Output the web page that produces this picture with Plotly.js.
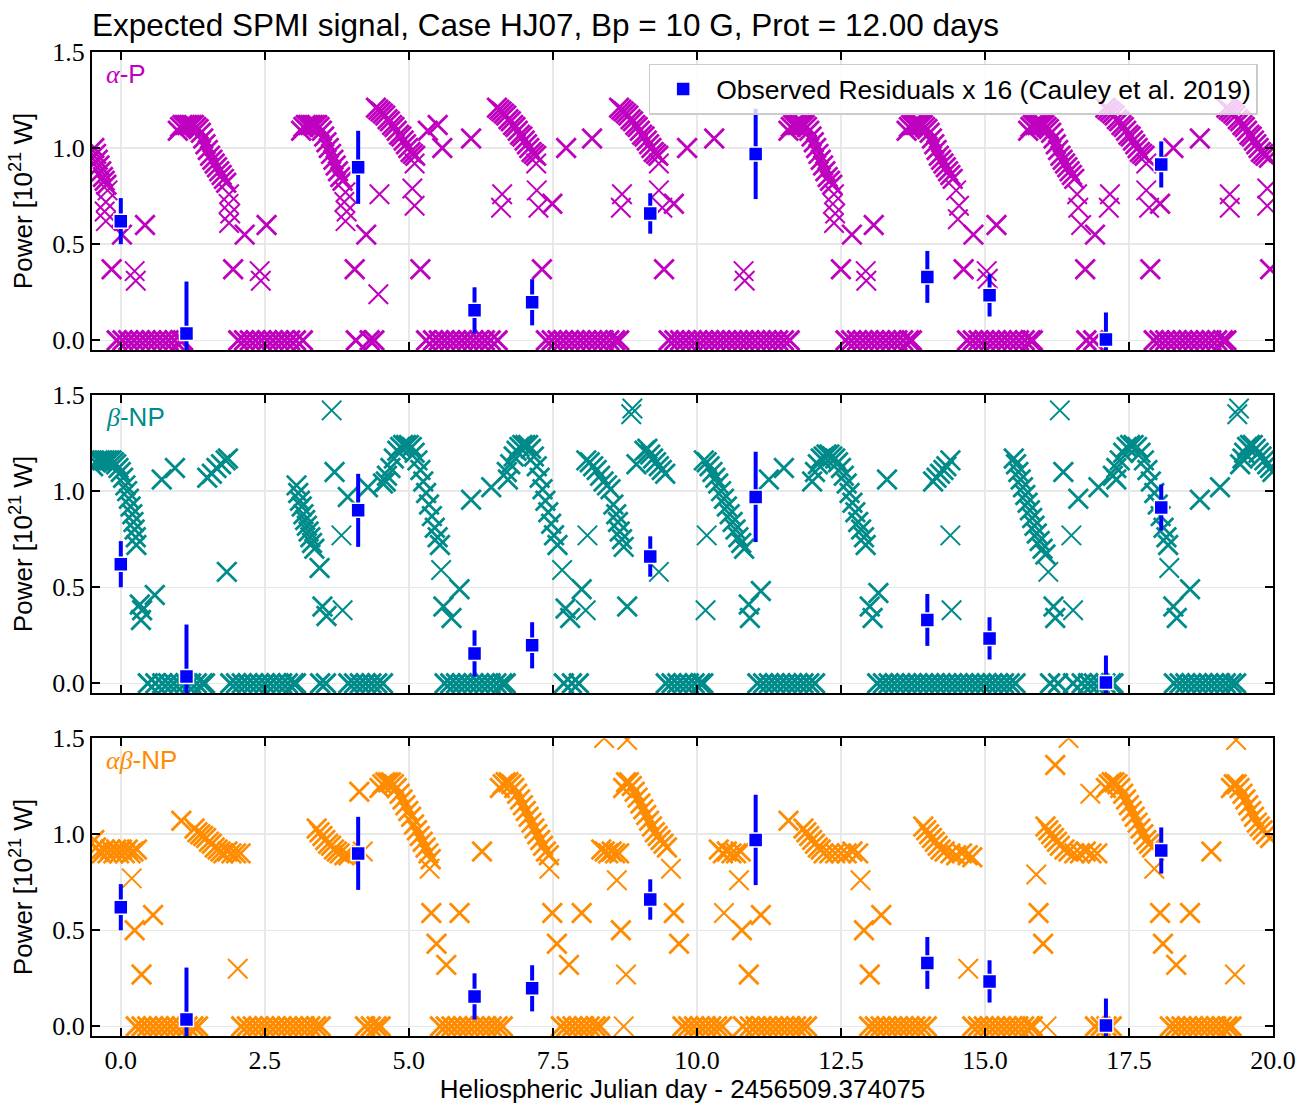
<!DOCTYPE html>
<html><head><meta charset="utf-8">
<script src="https://cdn.plot.ly/plotly-3.0.1.min.js"></script>
<style>html,body{margin:0;padding:0;background:#fff}#chart{width:1306px;height:1104px}</style>
</head><body><div id="chart"></div>
<script>
// ---------------- α-P (panel 1) ----------------
const aP_x = [
 -0.46,-0.43,-0.40,-0.37,-0.34,-0.31,-0.28,-0.25,
 -0.16,0.02,0.42,
 0.99,1.03,1.07,1.11,1.15,1.19,1.23,1.27,1.31,1.35,1.39,1.43,1.47,1.51,1.55,1.59,1.63,1.67,1.71,1.75,1.79,1.83,
 2.15,2.53,1.95,
 3.13,3.17,3.21,3.25,3.29,3.33,3.37,3.41,3.45,3.49,3.53,3.57,3.61,3.65,3.69,3.73,3.77,3.81,3.85,
 4.26,4.06,
 4.43,4.47,4.51,4.55,4.59,4.63,4.67,4.71,4.75,4.79,4.83,4.87,4.91,4.95,4.99,5.03,5.07,5.11,
 5.20,5.33,5.50,5.58,6.08,
 6.53,6.57,6.61,6.65,6.69,6.73,6.77,6.81,6.85,6.89,6.93,6.97,7.01,7.05,7.09,7.13,7.17,7.21,
 7.49,7.31,7.73,8.18,
 8.65,8.69,8.73,8.77,8.81,8.85,8.89,8.93,8.97,9.01,9.05,9.09,9.13,9.17,9.21,9.25,9.29,9.33,
 9.60,9.43,9.83,10.30,
 11.59,11.63,11.67,11.71,11.75,11.79,11.83,11.87,11.91,11.95,11.99,12.03,12.07,12.11,12.15,12.19,12.23,12.27,12.31,12.35,
 12.69,13.07,12.50,
 13.64,13.68,13.72,13.76,13.80,13.84,13.88,13.92,13.96,14.00,14.04,14.08,14.12,14.16,14.20,14.24,14.28,14.32,14.36,14.40,14.44,
 14.80,15.20,14.63,
 15.75,15.79,15.83,15.87,15.91,15.95,15.99,16.03,16.07,16.11,16.15,16.19,16.23,16.27,16.31,16.35,16.39,16.43,16.47,16.51,16.55,
 16.91,16.74,
 17.09,17.13,17.17,17.21,17.25,17.29,17.33,17.37,17.41,17.45,17.49,17.53,17.57,17.61,17.65,17.69,17.73,17.77,
 18.04,18.27,18.73,17.87,
 19.19,19.23,19.27,19.31,19.35,19.39,19.43,19.47,19.51,19.55,19.59,19.63,19.67,19.71,19.75,19.79,19.83,19.87,19.93,
 19.95
];
const aP_y = [
 1.00,0.97,0.94,0.91,0.88,0.85,0.83,0.81,
 0.37,0.55,0.60,
 1.09,1.11,1.12,1.12,1.12,1.12,1.12,1.12,1.11,1.10,1.08,1.05,1.02,0.99,0.96,0.94,0.92,0.90,0.88,0.86,0.84,0.82,
 0.55,0.60,0.37,
 1.09,1.11,1.12,1.12,1.12,1.12,1.12,1.12,1.11,1.09,1.06,1.03,1.00,0.97,0.94,0.91,0.88,0.85,0.83,
 0.55,0.37,
 1.21,1.20,1.19,1.18,1.17,1.15,1.14,1.12,1.11,1.09,1.07,1.06,1.04,1.02,1.00,0.98,0.97,0.96,
 0.37,1.09,1.12,1.00,1.05,
 1.21,1.20,1.19,1.18,1.17,1.15,1.14,1.12,1.11,1.09,1.07,1.06,1.04,1.02,1.00,0.98,0.97,0.96,
 0.71,0.37,1.00,1.05,
 1.21,1.20,1.19,1.18,1.17,1.15,1.14,1.12,1.11,1.09,1.07,1.06,1.04,1.02,1.00,0.98,0.97,0.96,
 0.71,0.37,1.00,1.05,
 1.09,1.11,1.12,1.12,1.12,1.12,1.12,1.12,1.11,1.09,1.06,1.03,1.00,0.97,0.94,0.91,0.88,0.85,0.83,0.81,
 0.55,0.60,0.37,
 1.09,1.11,1.12,1.12,1.12,1.12,1.12,1.12,1.11,1.10,1.08,1.05,1.02,0.99,0.96,0.94,0.92,0.90,0.88,0.86,0.84,
 0.55,0.60,0.37,
 1.09,1.11,1.12,1.12,1.12,1.12,1.12,1.12,1.11,1.10,1.08,1.05,1.02,0.99,0.96,0.94,0.92,0.90,0.88,0.86,0.84,
 0.55,0.37,
 1.21,1.20,1.19,1.18,1.17,1.15,1.14,1.12,1.11,1.09,1.07,1.06,1.04,1.02,1.00,0.98,0.97,0.96,
 0.71,1.00,1.05,0.37,
 1.21,1.20,1.19,1.18,1.17,1.15,1.14,1.12,1.11,1.09,1.07,1.06,1.04,1.02,1.00,0.98,0.97,0.96,0.95,
 0.37
];
const aP_thin_x = [-0.23,-0.26,-0.28,-0.26,0.24,0.26, 1.88,1.87,1.90,1.88,2.41,2.43, 3.90,3.88,3.92,3.90,4.49,4.47,
 5.10,5.06,5.10, 7.21,6.62,6.60,7.22,7.25, 9.34,8.70,8.68,9.34,9.40, 10.81,10.83,
 12.38,12.36,12.40,12.38,12.93,12.94, 14.50,14.55,14.53,15.03,15.05, 16.60,16.62,16.67,17.17,17.15,
 17.80,17.80,17.85, 19.25,19.25,19.90,19.90];
const aP_thin_y = [0.78,0.72,0.67,0.62,0.36,0.31, 0.76,0.71,0.66,0.61,0.36,0.31, 0.77,0.72,0.67,0.62,0.76,0.24,
 0.92,0.79,0.70, 0.92,0.76,0.69,0.78,0.69, 0.92,0.76,0.69,0.78,0.69, 0.36,0.31,
 0.76,0.71,0.66,0.61,0.36,0.31, 0.78,0.70,0.63,0.36,0.32, 0.76,0.69,0.60,0.76,0.69,
 0.92,0.78,0.69, 0.76,0.69,0.79,0.70];
const aP_zero_x = [
 -0.07,0.03,0.13,0.23,0.33,0.43,0.53,0.63,0.73,0.83,0.93,1.03,1.08,
 2.04,2.14,2.24,2.34,2.44,2.54,2.64,2.74,2.84,2.94,3.04,3.16,
 4.08,4.32,4.40,
 5.30,5.42,5.52,5.62,5.72,5.82,5.92,6.02,6.12,6.22,6.32,6.42,6.54,
 7.38,7.48,7.58,7.68,7.78,7.88,7.98,8.08,8.18,8.28,8.38,8.48,8.58,8.65,
 9.51,9.61,9.71,9.81,9.91,10.01,10.11,10.21,10.31,10.41,10.51,10.61,10.71,10.81,10.91,11.01,11.11,11.21,11.31,11.41,11.51,11.61,
 12.58,12.68,12.78,12.88,12.98,13.08,13.18,13.28,13.38,13.48,13.58,13.68,13.73,
 14.69,14.79,14.89,14.99,15.09,15.19,15.29,15.39,15.49,15.59,15.69,15.79,15.83,
 16.76,16.88,
 17.93,18.03,18.13,18.23,18.33,18.43,18.53,18.63,18.73,18.83,18.93,19.03,19.13,19.19
];
const aP_zero_y = [
 0,0,0,0,0,0,0,0,0,0,0,0,0,
 0,0,0,0,0,0,0,0,0,0,0,0,
 0,0,0,
 0,0,0,0,0,0,0,0,0,0,0,0,0,
 0,0,0,0,0,0,0,0,0,0,0,0,0,0,
 0,0,0,0,0,0,0,0,0,0,0,0,0,0,0,0,0,0,0,0,0,0,
 0,0,0,0,0,0,0,0,0,0,0,0,0,
 0,0,0,0,0,0,0,0,0,0,0,0,0,
 0,0,
 0,0,0,0,0,0,0,0,0,0,0,0,0,0
];

// ---------------- β-NP (panel 2) ----------------
const bNP_x = [
 -0.48,-0.44,-0.40,-0.36,-0.32,-0.28,-0.24,-0.20,-0.16,-0.12,-0.08,-0.04,0.00,0.04,0.08,0.11,0.14,0.17,0.20,0.22,0.24,0.26,0.27,
 0.33,0.37,0.35,0.59,0.71,0.94,1.50,1.58,1.66,1.74,1.82,1.86,1.84,
 3.05,3.08,3.11,3.14,3.17,3.20,3.23,3.26,3.29,3.32,3.36,3.45,
 3.50,3.57,3.71,3.94,4.29,4.60,
 4.55,4.62,4.68,4.74,4.80,4.85,4.90,4.95,5.00,5.05,5.10,5.15,5.20,5.25,5.30,5.35,5.40,5.45,5.50,5.54,
 5.88,5.60,5.74,6.08,6.43,6.72,
 6.70,6.76,6.82,6.87,6.92,6.97,7.02,7.07,7.12,7.17,7.22,7.27,7.32,7.37,7.42,7.47,7.52,7.58,
 8.00,7.72,7.80,8.79,
 8.08,8.14,8.20,8.26,8.32,8.38,8.44,8.50,8.55,8.60,8.63,8.66,8.70,8.73,
 8.95,9.09,9.14,9.19,9.24,9.29,9.34,9.39,9.45,
 10.12,10.17,10.22,10.27,10.32,10.37,10.42,10.47,10.52,10.57,10.62,10.67,10.72,10.77,10.82,
 11.11,10.90,10.92,11.25,11.51,
 12.00,12.05,12.10,12.15,12.20,12.25,12.30,12.35,12.40,12.45,12.50,12.55,12.60,12.65,12.70,12.75,12.80,12.85,12.90,12.93,
 13.15,13.00,13.05,13.30,
 14.10,14.16,14.22,14.28,14.33,14.40,
 15.50,15.54,15.58,15.62,15.66,15.70,15.74,15.78,15.82,15.86,15.90,15.95,16.00,16.05,
 16.19,16.22,16.36,16.62,16.97,17.28,
 17.22,17.28,17.34,17.40,17.46,17.52,17.58,17.64,17.70,17.76,17.82,17.88,17.94,18.00,18.05,18.10,18.15,18.18,
 18.56,18.27,18.33,18.73,19.08,19.43,19.47,
 19.50,19.55,19.60,19.65,19.70,19.75,19.80,19.85,19.90,19.95,19.99
];
const bNP_y = [
 1.13,1.15,1.16,1.16,1.16,1.16,1.16,1.16,1.16,1.15,1.14,1.12,1.10,1.07,1.03,1.00,0.96,0.92,0.88,0.84,0.80,0.76,0.72,
 0.41,0.38,0.33,0.46,1.06,1.12,1.07,1.09,1.12,1.14,1.16,1.17,0.58,
 1.03,0.99,0.95,0.92,0.88,0.85,0.82,0.79,0.76,0.73,0.70,0.60,
 0.40,0.35,1.10,0.97,1.02,1.05,
 1.04,1.08,1.12,1.17,1.21,1.23,1.24,1.24,1.24,1.23,1.20,1.16,1.11,1.05,0.99,0.93,0.87,0.81,0.76,0.72,
 0.49,0.40,0.34,0.955,1.02,1.06,
 1.10,1.14,1.18,1.21,1.23,1.24,1.24,1.24,1.22,1.18,1.13,1.07,1.01,0.95,0.89,0.83,0.77,0.72,
 0.49,0.39,0.34,0.40,
 1.16,1.15,1.13,1.11,1.08,1.05,1.03,1.01,0.93,0.88,0.84,0.79,0.75,0.71,
 1.14,1.21,1.22,1.19,1.17,1.15,1.13,1.11,1.09,
 1.16,1.15,1.13,1.10,1.07,1.04,1.00,0.96,0.92,0.88,0.84,0.80,0.76,0.73,0.70,
 0.48,0.41,0.34,1.06,1.12,
 1.05,1.10,1.14,1.17,1.18,1.19,1.19,1.18,1.17,1.15,1.12,1.08,1.04,0.99,0.94,0.89,0.84,0.80,0.76,0.72,
 0.47,0.40,0.34,1.06,
 1.05,1.07,1.09,1.11,1.13,1.16,
 1.17,1.14,1.10,1.06,1.02,0.98,0.94,0.90,0.86,0.82,0.78,0.74,0.70,0.67,
 0.40,0.34,1.10,0.96,1.02,1.06,
 1.08,1.12,1.16,1.20,1.23,1.24,1.24,1.23,1.20,1.16,1.11,1.05,0.99,0.93,0.87,0.81,0.76,0.72,
 0.49,0.40,0.34,0.955,1.02,1.14,1.17,
 1.20,1.23,1.24,1.24,1.22,1.20,1.18,1.16,1.14,1.12,1.10
];
const bNP_thin_x = [3.66,3.85,3.83,5.56,7.66,8.07,8.10,8.86,8.88,9.34,10.17,10.15,14.40,14.42,16.10,16.53,16.30,16.50,18.20,19.38,19.41];
const bNP_thin_y = [1.42,0.38,0.77,0.59,0.59,0.38,0.77,1.40,1.43,0.58,0.77,0.38,0.77,0.38,0.58,0.38,1.42,0.77,0.60,1.40,1.43];
const bNP_zero_x = [
 0.47,0.60,0.72,0.82,0.92,1.02,1.12,1.22,1.32,1.42,1.46,
 1.90,2.00,2.10,2.20,2.30,2.40,2.50,2.60,2.70,2.80,2.90,3.00,3.04,
 3.46,3.56,
 3.95,4.05,4.15,4.25,4.35,4.45,4.55,
 5.62,5.72,5.82,5.92,6.02,6.12,6.22,6.32,6.42,6.52,6.62,6.68,
 7.69,7.83,7.95,
 9.46,9.56,9.66,9.76,9.86,9.96,10.06,10.11,
 11.05,11.15,11.25,11.35,11.45,11.55,11.65,11.75,11.85,11.95,12.05,
 13.13,13.23,13.33,13.43,13.53,13.63,13.73,13.83,13.93,14.03,14.13,14.23,14.33,14.43,14.53,14.63,14.73,14.83,14.93,15.03,15.13,15.23,15.33,15.43,15.53,
 16.13,16.27,
 16.53,16.68,16.79,16.89,16.99,17.09,17.19,17.23,
 18.28,18.38,18.48,18.58,18.68,18.78,18.88,18.98,19.08,19.18,19.28,19.36
];
const bNP_zero_y = [
 0,0,0,0,0,0,0,0,0,0,0,
 0,0,0,0,0,0,0,0,0,0,0,0,0,
 0,0,
 0,0,0,0,0,0,0,
 0,0,0,0,0,0,0,0,0,0,0,0,
 0,0,0,
 0,0,0,0,0,0,0,0,
 0,0,0,0,0,0,0,0,0,0,0,
 0,0,0,0,0,0,0,0,0,0,0,0,0,0,0,0,0,0,0,0,0,0,0,0,0,
 0,0,
 0,0,0,0,0,0,0,0,
 0,0,0,0,0,0,0,0,0,0,0,0
];

// ---------------- αβ-NP (panel 3) ----------------
const abNP_x = [
 -0.46,-0.43,-0.38,-0.33,-0.28,-0.23,-0.18,-0.13,-0.08,-0.03,0.02,0.07,0.12,0.17,0.22,0.28,
 0.24,0.56,0.36,1.05,
 1.28,1.33,1.38,1.43,1.48,1.53,1.58,1.63,1.68,1.73,1.78,1.85,1.92,2.00,2.08,
 3.40,3.45,3.50,3.55,3.60,3.65,3.70,3.75,3.80,3.88,3.95,
 4.14,
 4.49,4.54,4.59,4.64,4.69,4.74,4.79,4.84,4.89,4.94,4.99,5.04,5.09,5.14,5.19,5.24,5.29,5.34,5.38,
 5.39,5.48,5.65,5.88,6.27,
 6.58,6.63,6.68,6.73,6.78,6.83,6.88,6.93,6.98,7.03,7.08,7.13,7.18,7.23,7.28,7.33,7.38,7.43,
 7.49,7.57,7.78,8.00,
 8.34,8.40,8.46,8.52,8.58,8.65,
 8.68,
 8.72,8.77,8.82,8.87,8.92,8.97,9.02,9.07,9.12,9.17,9.22,9.27,9.32,9.37,9.42,9.48,
 9.60,9.69,
 10.38,10.45,10.52,10.60,10.68,10.76,
 10.78,10.90,11.11,11.59,
 11.85,11.90,11.95,12.00,12.05,12.10,12.15,12.20,12.30,12.40,12.50,12.60,12.70,12.80,
 12.90,13.00,13.20,
 13.93,13.98,14.03,14.08,14.13,14.18,14.23,14.30,14.40,14.50,14.60,14.70,14.78,
 15.93,16.01,16.22,
 16.05,16.10,16.15,16.20,16.25,16.30,16.38,16.45,16.55,16.65,16.75,16.85,16.95,
 17.10,17.15,17.20,17.25,17.30,17.35,17.40,17.45,17.50,17.55,17.60,17.65,17.70,17.75,17.80,17.85,17.90,
 18.04,18.09,18.32,18.56,18.93,
 19.27,19.32,19.37,19.42,19.47,19.52,19.57,19.62,19.67,19.72,19.77,19.82,19.88,19.95
];
const abNP_y = [
 0.97,0.93,0.91,0.90,0.92,0.90,0.92,0.90,0.92,0.90,0.92,0.90,0.92,0.90,0.91,0.92,
 0.50,0.58,0.27,1.07,
 1.03,1.01,1.00,0.99,0.98,0.96,0.95,0.93,0.92,0.91,0.90,0.91,0.90,0.90,0.90,
 1.03,1.01,0.99,0.97,0.95,0.94,0.92,0.91,0.90,0.89,0.89,
 1.22,
 1.24,1.26,1.27,1.27,1.27,1.26,1.24,1.21,1.18,1.15,1.12,1.09,1.05,1.02,0.99,0.96,0.93,0.90,0.87,
 0.59,0.43,0.32,0.59,0.91,
 1.24,1.26,1.27,1.27,1.26,1.24,1.21,1.18,1.15,1.12,1.09,1.06,1.03,1.00,0.97,0.94,0.91,0.89,
 0.59,0.43,0.32,0.59,
 0.92,0.91,0.90,0.91,0.90,0.90,
 0.50,
 1.24,1.27,1.27,1.25,1.22,1.19,1.16,1.13,1.10,1.07,1.04,1.01,0.99,0.97,0.95,0.93,
 0.59,0.43,
 0.92,0.90,0.91,0.90,0.90,0.91,
 0.50,0.27,0.58,1.07,
 1.03,1.01,0.99,0.97,0.95,0.93,0.92,0.90,0.90,0.90,0.90,0.90,0.91,0.90,
 0.50,0.27,0.58,
 1.04,1.02,1.00,0.98,0.96,0.94,0.92,0.91,0.90,0.89,0.90,0.89,0.88,
 0.59,0.43,1.36,
 1.04,1.02,1.00,0.98,0.96,0.94,0.92,0.91,0.90,0.90,0.91,0.90,0.90,
 1.24,1.26,1.27,1.27,1.26,1.24,1.21,1.18,1.15,1.12,1.09,1.06,1.03,1.00,0.97,0.95,0.93,
 0.59,0.43,0.32,0.59,0.91,
 1.24,1.26,1.26,1.24,1.21,1.18,1.15,1.12,1.09,1.06,1.04,1.02,1.00,0.98
];
const abNP_thin_x = [0.19,2.03,4.20,5.36,7.44,8.39,8.79,8.61,8.77,8.73,9.55,10.73,10.47,12.84,14.71,15.89,16.07,16.45,16.83,17.94,19.34,19.36];
const abNP_thin_y = [0.77,0.30,0.91,0.82,0.82,1.50,1.49,0.76,0.27,0.00,0.82,0.76,0.59,0.76,0.30,0.79,0.00,1.50,1.21,0.82,0.27,1.49];
const abNP_zero_x = [
 0.26,0.36,0.46,0.56,0.66,0.76,0.86,0.96,1.06,1.16,1.26,1.34,
 2.09,2.19,2.29,2.39,2.49,2.59,2.69,2.79,2.89,2.99,3.09,3.19,3.29,3.39,3.47,
 4.24,4.34,4.44,4.51,
 5.54,5.64,5.74,5.84,5.94,6.04,6.14,6.24,6.34,6.44,6.54,6.63,
 7.64,7.74,7.84,7.94,8.04,8.14,8.24,8.32,
 9.75,9.85,9.95,10.05,10.15,10.25,10.35,10.44,
 10.80,10.92,11.02,11.12,11.22,11.32,11.42,11.52,11.62,11.72,11.82,11.91,
 12.99,13.09,13.19,13.29,13.39,13.49,13.59,13.69,13.79,13.89,13.99,
 14.78,14.88,14.98,15.08,15.18,15.28,15.38,15.48,15.58,15.68,15.78,15.83,
 16.91,17.01,17.11,17.20,
 18.21,18.31,18.41,18.51,18.61,18.71,18.81,18.91,19.01,19.11,19.21,19.28
];
const abNP_zero_y = [
 0,0,0,0,0,0,0,0,0,0,0,0,
 0,0,0,0,0,0,0,0,0,0,0,0,0,0,0,
 0,0,0,0,
 0,0,0,0,0,0,0,0,0,0,0,0,
 0,0,0,0,0,0,0,0,
 0,0,0,0,0,0,0,0,
 0,0,0,0,0,0,0,0,0,0,0,0,
 0,0,0,0,0,0,0,0,0,0,0,
 0,0,0,0,0,0,0,0,0,0,0,0,
 0,0,0,0,
 0,0,0,0,0,0,0,0,0,0,0,0
];

// ---------------- Observed residuals x 16 (Cauley et al. 2019) ----------------
const obs_x   = [0.00, 1.14, 4.12, 6.14, 7.14, 9.19, 11.02, 14.00, 15.08, 17.10, 18.06];
const obs_y   = [0.62, 0.036, 0.90, 0.156, 0.198, 0.66, 0.97, 0.33, 0.234, 0.005, 0.915];
const obs_err = [0.12, 0.27, 0.19, 0.12, 0.12, 0.105, 0.235, 0.135, 0.11, 0.14, 0.12];

// ---------------- styling ----------------
const C_AP = '#BF00BF', C_BNP = '#008B8B', C_ABNP = '#FF8C00', C_OBS = '#0000FF';
const SANS = 'Liberation Sans, Arial, sans-serif';
const SERIF = 'Liberation Serif, Times New Roman, serif';

function xMarker(color, w) {
  return {symbol: 'x-thin-open', size: 19.5, color: color, line: {color: color, width: w}};
}
function panelTraces(ax, bx, by, tx, ty, zx, zy, color, first) {
  const base = {type: 'scatter', mode: 'markers', hoverinfo: 'skip', showlegend: false,
                xaxis: 'x' + ax, yaxis: 'y' + ax, cliponaxis: true};
  return [
    Object.assign({}, base, {x: zx, y: zy, marker: xMarker(color, 3.0)}),
    Object.assign({}, base, {x: tx, y: ty, marker: xMarker(color, 2.0)}),
    Object.assign({}, base, {x: bx, y: by, marker: xMarker(color, 2.8)}),
    Object.assign({}, base, {
      x: obs_x, y: obs_y, showlegend: first,
      name: 'Observed Residuals x 16 (Cauley et al. 2019)',
      error_y: {type: 'data', array: obs_err, visible: true, color: C_OBS, thickness: 4, width: 0},
      marker: {symbol: 'square', size: 14, color: C_OBS, line: {color: 'white', width: 1.5}}
    })
  ];
}

const data = [].concat(
  panelTraces('',  aP_x,  aP_y,  aP_thin_x,  aP_thin_y,  aP_zero_x,  aP_zero_y,  C_AP,  true),
  panelTraces('2', bNP_x, bNP_y, bNP_thin_x, bNP_thin_y, bNP_zero_x, bNP_zero_y, C_BNP, false),
  panelTraces('3', abNP_x, abNP_y, abNP_thin_x, abNP_thin_y, abNP_zero_x, abNP_zero_y, C_ABNP, false)
);

function xAxis(anchor, labels) {
  return {
    anchor: anchor, domain: [0, 1], range: [-0.5, 20], tick0: 0, dtick: 2.5, tickformat: '.1f',
    showticklabels: labels, ticks: 'inside', ticklen: 8, tickwidth: 2, tickcolor: 'black',
    showline: true, linewidth: 2, linecolor: 'black', mirror: 'ticks',
    showgrid: true, gridcolor: '#e8e8e8', gridwidth: 1.5, zeroline: false,
    tickfont: {family: SERIF, size: 26, color: 'black'}
  };
}
function yAxis(anchor, domain) {
  return {
    anchor: anchor, domain: domain, range: [-0.05, 1.5], tick0: 0, dtick: 0.5, tickformat: '.1f',
    ticks: 'inside', ticklen: 8, tickwidth: 2, tickcolor: 'black',
    showline: true, linewidth: 2, linecolor: 'black', mirror: 'ticks',
    showgrid: true, gridcolor: '#e8e8e8', gridwidth: 1.5, zeroline: false,
    tickfont: {family: SERIF, size: 26, color: 'black'},
    title: {text: 'Power [10<sup>21</sup> W]', font: {family: SANS, size: 26, color: 'black'}, standoff: 12}
  };
}

const xa3 = xAxis('y3', true);
xa3.title = {text: 'Heliospheric Julian day - 2456509.374075', font: {family: SANS, size: 26, color: 'black'}, standoff: 8};
const xa1 = xAxis('y', false);
const xa2 = xAxis('y2', false); xa2.matches = 'x';
xa3.matches = 'x';

function panelLabel(text, color, yref) {
  return {text: text, xref: 'x' + yref.replace('y','') + ' domain', yref: yref + ' domain',
          x: 0.010, y: 0.925, xanchor: 'left', yanchor: 'middle', showarrow: false,
          font: {family: SANS, size: 26, color: color}};
}

const layout = {
  width: 1306, height: 1104,
  margin: {l: 92, r: 33, t: 52, b: 68},
  paper_bgcolor: 'white', plot_bgcolor: 'white',
  font: {family: SANS, size: 26, color: 'black'},
  title: {text: 'Expected SPMI signal, Case HJ07, Bp = 10 G, Prot = 12.00 days',
          xref: 'paper', x: 0, xanchor: 'left', yref: 'container', y: 0.977, yanchor: 'middle',
          font: {family: SANS, size: 31.5, color: 'black'}},
  xaxis: xa1, xaxis2: xa2, xaxis3: xa3,
  yaxis: yAxis('x', [0.6972, 1]),
  yaxis2: yAxis('x2', [0.3486, 0.6514]),
  yaxis3: yAxis('x3', [0, 0.3028]),
  showlegend: true,
  legend: {x: 0.987, xanchor: 'right', y: 0.988, yanchor: 'top', itemwidth: 56,
           bgcolor: 'rgba(255,255,255,0.8)', bordercolor: '#cccccc', borderwidth: 1.5,
           font: {family: SANS, size: 26.5, color: 'black'}},
  annotations: [
    panelLabel('<span style="font-family:Liberation Serif"><i>α</i></span>-P', C_AP, 'y'),
    panelLabel('<span style="font-family:Liberation Serif"><i>β</i></span>-NP', C_BNP, 'y2'),
    panelLabel('<span style="font-family:Liberation Serif"><i>αβ</i></span>-NP', C_ABNP, 'y3')
  ]
};

Plotly.newPlot('chart', data, layout, {displayModeBar: false, staticPlot: true});
</script>
</body></html>
